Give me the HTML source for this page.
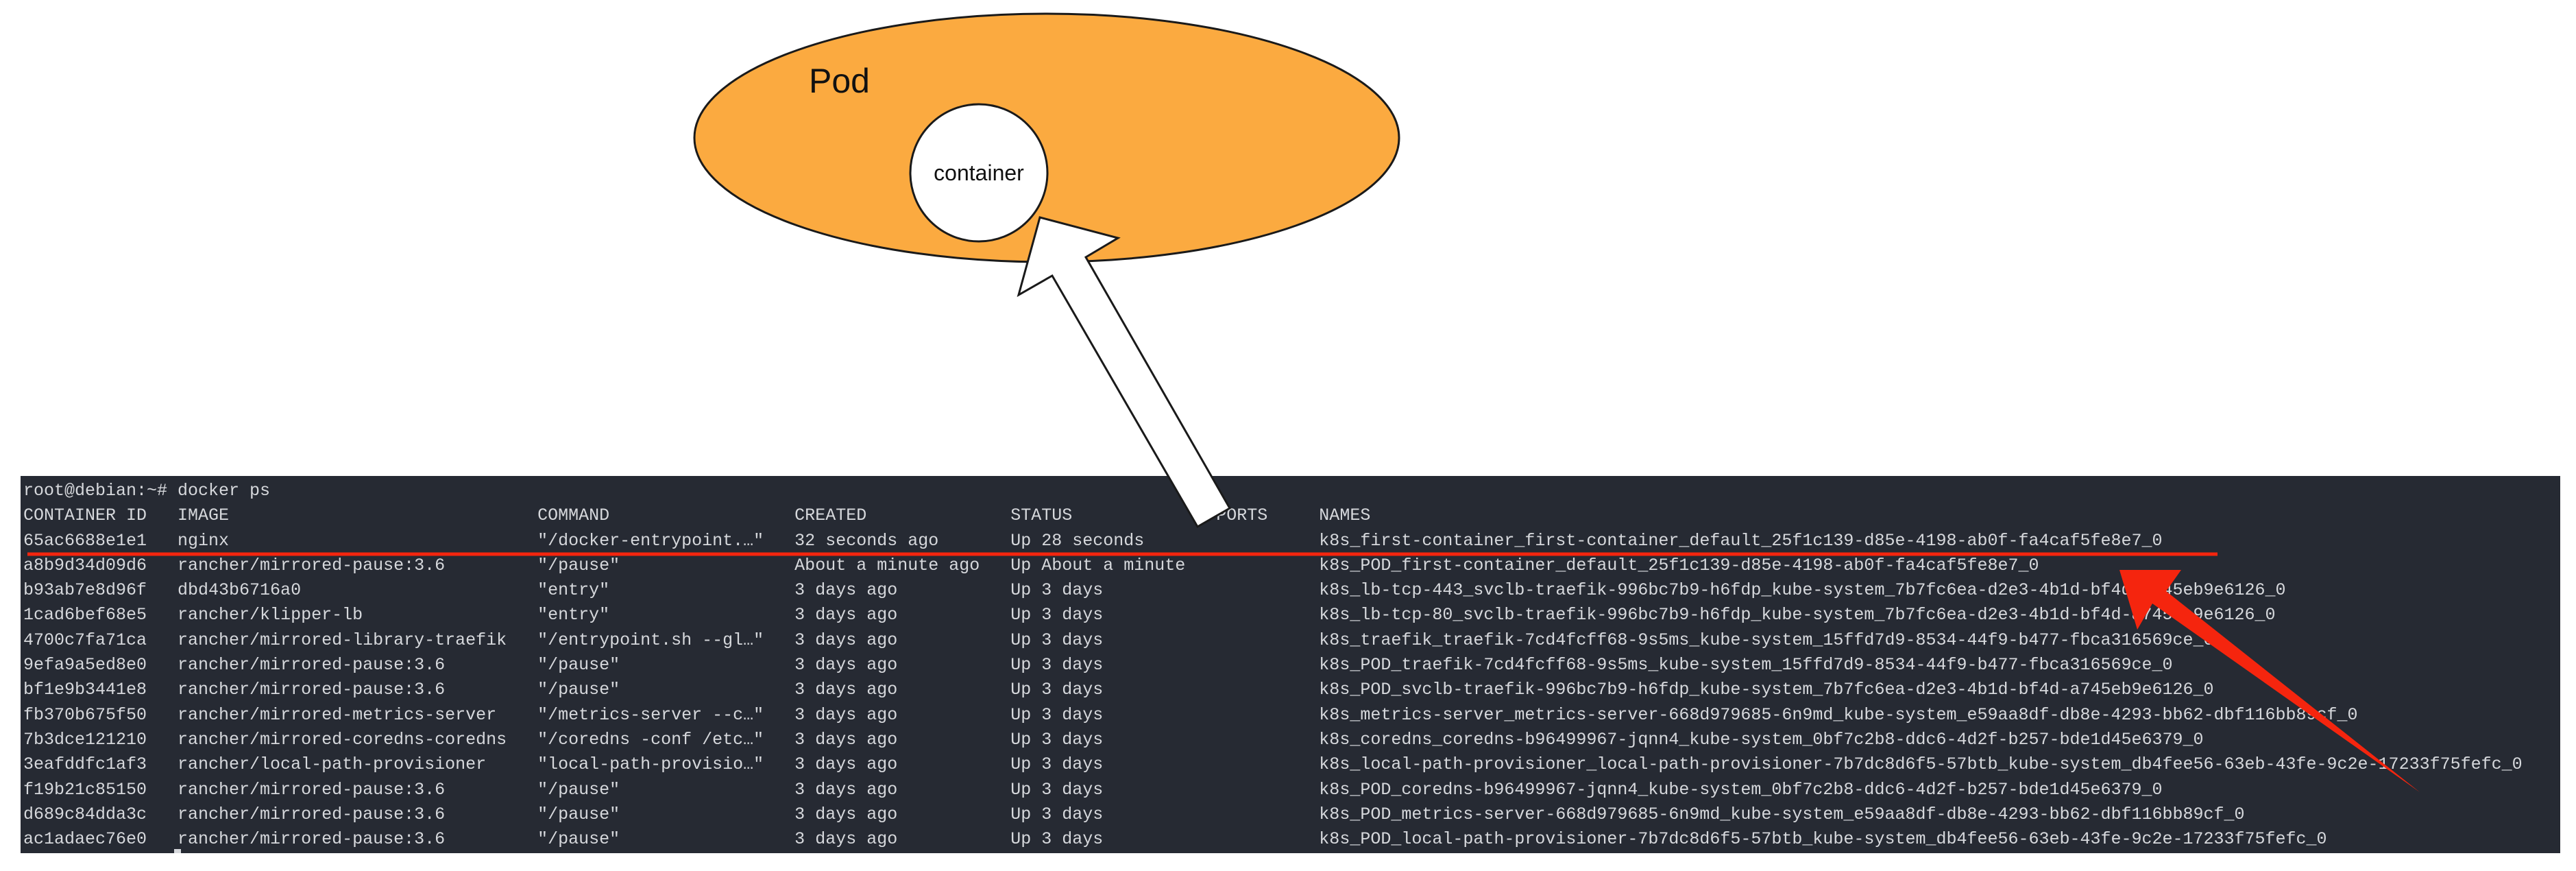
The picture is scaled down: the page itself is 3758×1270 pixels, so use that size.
<!DOCTYPE html>
<html><head><meta charset="utf-8"><style>
html,body{margin:0;padding:0;background:#fff;width:3758px;height:1270px;overflow:hidden;position:relative}
#term{position:absolute;left:30px;top:694px;width:3705px;height:550px;background:#262a33}
pre{position:absolute;left:4px;top:4px;margin:0;font-family:"Liberation Mono",monospace;font-size:25px;line-height:36.3px;color:#d6d8dc;white-space:pre}
svg{position:absolute;left:0;top:0}
</style></head><body>
<div id="term"><pre>root@debian:~# docker ps
CONTAINER ID   IMAGE                              COMMAND                  CREATED              STATUS              PORTS     NAMES
65ac6688e1e1   nginx                              "/docker-entrypoint.…"   32 seconds ago       Up 28 seconds                 k8s_first-container_first-container_default_25f1c139-d85e-4198-ab0f-fa4caf5fe8e7_0
a8b9d34d09d6   rancher/mirrored-pause:3.6         "/pause"                 About a minute ago   Up About a minute             k8s_POD_first-container_default_25f1c139-d85e-4198-ab0f-fa4caf5fe8e7_0
b93ab7e8d96f   dbd43b6716a0                       "entry"                  3 days ago           Up 3 days                     k8s_lb-tcp-443_svclb-traefik-996bc7b9-h6fdp_kube-system_7b7fc6ea-d2e3-4b1d-bf4d-a745eb9e6126_0
1cad6bef68e5   rancher/klipper-lb                 "entry"                  3 days ago           Up 3 days                     k8s_lb-tcp-80_svclb-traefik-996bc7b9-h6fdp_kube-system_7b7fc6ea-d2e3-4b1d-bf4d-a745eb9e6126_0
4700c7fa71ca   rancher/mirrored-library-traefik   "/entrypoint.sh --gl…"   3 days ago           Up 3 days                     k8s_traefik_traefik-7cd4fcff68-9s5ms_kube-system_15ffd7d9-8534-44f9-b477-fbca316569ce_0
9efa9a5ed8e0   rancher/mirrored-pause:3.6         "/pause"                 3 days ago           Up 3 days                     k8s_POD_traefik-7cd4fcff68-9s5ms_kube-system_15ffd7d9-8534-44f9-b477-fbca316569ce_0
bf1e9b3441e8   rancher/mirrored-pause:3.6         "/pause"                 3 days ago           Up 3 days                     k8s_POD_svclb-traefik-996bc7b9-h6fdp_kube-system_7b7fc6ea-d2e3-4b1d-bf4d-a745eb9e6126_0
fb370b675f50   rancher/mirrored-metrics-server    "/metrics-server --c…"   3 days ago           Up 3 days                     k8s_metrics-server_metrics-server-668d979685-6n9md_kube-system_e59aa8df-db8e-4293-bb62-dbf116bb89cf_0
7b3dce121210   rancher/mirrored-coredns-coredns   "/coredns -conf /etc…"   3 days ago           Up 3 days                     k8s_coredns_coredns-b96499967-jqnn4_kube-system_0bf7c2b8-ddc6-4d2f-b257-bde1d45e6379_0
3eafddfc1af3   rancher/local-path-provisioner     "local-path-provisio…"   3 days ago           Up 3 days                     k8s_local-path-provisioner_local-path-provisioner-7b7dc8d6f5-57btb_kube-system_db4fee56-63eb-43fe-9c2e-17233f75fefc_0
f19b21c85150   rancher/mirrored-pause:3.6         "/pause"                 3 days ago           Up 3 days                     k8s_POD_coredns-b96499967-jqnn4_kube-system_0bf7c2b8-ddc6-4d2f-b257-bde1d45e6379_0
d689c84dda3c   rancher/mirrored-pause:3.6         "/pause"                 3 days ago           Up 3 days                     k8s_POD_metrics-server-668d979685-6n9md_kube-system_e59aa8df-db8e-4293-bb62-dbf116bb89cf_0
ac1adaec76e0   rancher/mirrored-pause:3.6         "/pause"                 3 days ago           Up 3 days                     k8s_POD_local-path-provisioner-7b7dc8d6f5-57btb_kube-system_db4fee56-63eb-43fe-9c2e-17233f75fefc_0</pre>
<div style="position:absolute;left:224px;top:544px;width:10px;height:6px;background:#d6d8dc"></div>
</div>
<svg width="3758" height="1270" viewBox="0 0 3758 1270">
  <ellipse cx="1527" cy="201" rx="514" ry="181" fill="#fbaa40" stroke="#1a1a1a" stroke-width="3"/>
  <text x="1180" y="135" font-family="Liberation Sans, sans-serif" font-size="50" fill="#111">Pod</text>
  <ellipse cx="1428" cy="252" rx="100" ry="100" fill="#fff" stroke="#1a1a1a" stroke-width="3"/>
  <text x="1428" y="263" text-anchor="middle" font-family="Liberation Sans, sans-serif" font-size="32" fill="#111">container</text>
  <line x1="40" y1="808" x2="3235" y2="808" stroke="#f5250e" stroke-width="5"/>
  <polygon points="1517,317 1631,347 1584,375 1794,741 1747,768 1535,402 1486,430" fill="#fff" stroke="#1a1a1a" stroke-width="3" stroke-linejoin="miter"/>
  <polygon points="3092,831 3182,831 3160,862 3530,1155 3140,880 3118,918" fill="#f5250e"/>
</svg>
</body></html>
